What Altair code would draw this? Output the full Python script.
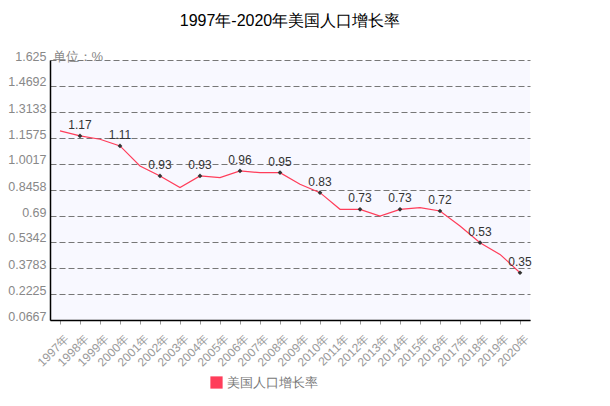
import altair as alt
import pandas as pd

years = [f"{y}年" for y in range(1997, 2021)]
values = [1.20, 1.17, 1.15, 1.11, 0.99, 0.93, 0.86, 0.93, 0.92, 0.96, 0.95, 0.95,
          0.88, 0.83, 0.73, 0.73, 0.69, 0.73, 0.74, 0.72, 0.63, 0.53, 0.46, 0.35]
labelled = [False, True] * 12
series = "美国人口增长率"
tick_vals = [0.0667, 0.2225, 0.3783, 0.5342, 0.69, 0.8458, 1.0017, 1.1575, 1.3133, 1.4692, 1.625]

df = pd.DataFrame({"year": years, "value": values, "show": labelled, "series": series})
df["label"] = df["value"].map(lambda v: f"{v:g}")

font = "Liberation Sans"
xscale = alt.Scale(type="point", padding=0.5)
x = alt.X("year:N", sort=years, scale=xscale,
          axis=alt.Axis(title=None, labelAngle=-45, labelColor="#999", labelFontSize=12,
                        labelFont=font, domainColor="#000", domainWidth=1.5, labelOverlap=False,
                        tickColor="#999", tickSize=4, labelPadding=9, labelOffset=3, grid=False))
y = alt.Y("value:Q", scale=alt.Scale(domain=[0.0667, 1.625], nice=False, zero=False),
          axis=alt.Axis(values=tick_vals, tickCount=len(tick_vals) + 5,
                        labelExpr="format(datum.value, '.4~f')",
                        labelOverlap=False, labelOffset=-4,
                        title="单位：%", titleAngle=0, titleAlign="left", titleX=2, titleY=-4,
                        titleBaseline="middle", titleColor="#888", titleFontSize=13,
                        titleFontWeight="normal", titleFont=font,
                        labelColor="#888", labelFontSize=12.5, labelFont=font, labelPadding=4,
                        ticks=False, domainColor="#000", domainWidth=1.5,
                        gridColor="#777", gridDash=[6, 3], gridWidth=1))

base = alt.Chart(df)
line = base.mark_line(strokeWidth=1.2).encode(
    x=x, y=y,
    color=alt.Color("series:N", scale=alt.Scale(range=["#ff3d5a"]),
                    legend=alt.Legend(title=None, orient="none", legendX=160, legendY=316,
                                      symbolType="square", symbolSize=150, symbolStrokeWidth=0,
                                      symbolFillColor="#ff3d5a", symbolOpacity=1,
                                      labelFontSize=13, labelColor="#777", labelFont=font)))
pts = base.transform_filter("datum.show").mark_point(filled=True, size=22, color="#333", shape="diamond", opacity=1).encode(
    x=alt.X("year:N", sort=years, scale=xscale), y="value:Q")
txt = base.transform_filter("datum.show").mark_text(dy=-11, fontSize=12, color="#333", font=font).encode(
    x=alt.X("year:N", sort=years, scale=xscale), y="value:Q", text="label:N")

chart = alt.layer(line, pts, txt).properties(
    width=480, height=260,
    title=alt.TitleParams("1997年-2020年美国人口增长率", fontSize=16, fontWeight="normal",
                          color="#000", font=font, offset=21, anchor="middle"),
    autosize=alt.AutoSizeParams(type="none"),
    padding={"left": 42, "top": 52, "right": 72, "bottom": 86},
).configure_view(fill="#f8f8ff", stroke=None)

chart.save("out.html", embed_options={"renderer": "svg", "actions": False})
